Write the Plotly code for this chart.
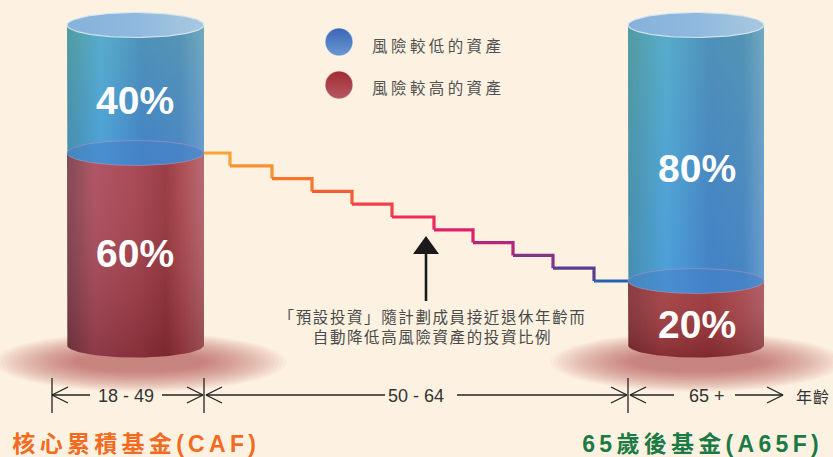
import json
import numpy as np
import plotly.graph_objects as go

# ---------------- data ----------------
fund_names = ["核心累積基金(CAF)", "65歲後基金(A65F)"]
legend_labels = ["風險較低的資產", "風險較高的資產"]
age_bands = ["18 - 49", "50 - 64", "65 +"]
age_axis_title = "年齡"
note_lines = ["「預設投資」隨計劃成員接近退休年齡而", "自動降低高風險資產的投資比例"]

caf_low_risk = 40      # %
caf_high_risk = 60     # %
a65f_low_risk = 80     # %
a65f_high_risk = 20    # %

# high-risk share held along the de-risking path (age 50-64)
derisk_high_risk = [60, 56, 52, 48, 44, 40, 36, 32, 28, 24, 20]
derisk_step_x = [204, 230, 272, 312, 352, 392, 434, 473, 513, 553, 594, 628]

# ---------------- layout helpers ----------------
W, H = 833, 457
PX_PER_PCT = 3.2
BASE_PX = 345.0


def py(px):
    """pixel row -> y value (percent scale)"""
    return (BASE_PX - px) / PX_PER_PCT


YMIN, YMAX = py(H), py(0)
RY = 12.5 / PX_PER_PCT
BG = "#FDF2E1"

step_colors = ["#F8A334", "#F79030", "#F6762C", "#F45C35", "#F1404A", "#EE2C5D",
               "#DD216B", "#B5267A", "#843486", "#55408F", "#2662B0"]

fig = go.Figure()

t = np.linspace(0, np.pi, 60)
tf = np.linspace(0, 2 * np.pi, 120)


def add_poly(xs, ys, color=None, grad=None, opacity=1.0, line=None):
    kw = dict(x=list(xs), y=list(ys), mode="lines", fill="toself",
              hoverinfo="skip", showlegend=False, opacity=opacity,
              line=line or dict(width=0, color="rgba(0,0,0,0)"))
    if grad is not None:
        kw["fillgradient"] = grad
    else:
        kw["fillcolor"] = color
    fig.add_trace(go.Scatter(**kw))


def glow(cx, cy_px):
    n = 22
    for k in range(n):
        f = 1 - k / n
        rx = 62 + 85 * f
        ry = (9 + 21 * f) / PX_PER_PCT
        add_poly(cx + rx * np.cos(tf), py(cy_px) + ry * np.sin(tf),
                 color="rgba(175,60,65,0.036)")


def cylinder(cx, rx, high, blue_cs, red_cs):
    x0, x1 = cx - rx, cx + rx
    top = high + (100 - high)
    b = high
    # red (higher-risk) body
    xs = [x0, x0] + list(cx - rx * np.cos(t)) + [x1, x1]
    ys = [b, 0] + list(0 - RY * np.sin(t)) + [0, b]
    add_poly(xs, ys, grad=dict(type="horizontal", colorscale=red_cs, start=x0, stop=x1))
    add_poly(xs, ys, grad=dict(type="vertical", colorscale=[
        [0, "rgba(70,10,15,0.28)"], [1, "rgba(255,170,185,0.10)"]], start=-RY, stop=b))
    # blue (lower-risk) body
    xs = [x0, x0] + list(cx - rx * np.cos(t)) + [x1, x1]
    ys = [top, b] + list(b - RY * np.sin(t)) + [b, top]
    add_poly(xs, ys, grad=dict(type="horizontal", colorscale=blue_cs, start=x0, stop=x1))
    add_poly(xs, ys, grad=dict(type="vertical", colorscale=[
        [0, "rgba(40,100,205,0.22)"], [1, "rgba(95,165,140,0.25)"]], start=b - RY, stop=top))
    # boundary ellipse (top of red seen through blue)
    add_poly(cx + rx * np.cos(tf), b + RY * np.sin(tf), color="rgba(70,130,200,0.55)",
             line=dict(width=1, color="rgba(190,150,190,0.5)"))
    # top face
    add_poly(cx + rx * np.cos(tf), top + RY * np.sin(tf),
             grad=dict(type="horizontal", colorscale=[[0, "#86B1DA"], [0.5, "#8FB9DE"], [1, "#A9C8E0"]],
                       start=x0, stop=x1),
             line=dict(width=1.2, color="rgba(215,232,240,0.9)"))


glow(140, 362)
glow(697, 362)

blue_left = [[0, "#4D98A6"], [0.25, "#57B1DE"], [0.55, "#4A8DC4"], [0.82, "#5390C0"], [1, "#78A9CE"]]
red_left = [[0, "#74404A"], [0.2, "#A84C5C"], [0.5, "#A0404C"], [0.72, "#8E3238"], [0.86, "#A8484E"], [1, "#B0646C"]]
blue_right = [[0, "#4D98A8"], [0.28, "#56B0DF"], [0.6, "#4A8AC6"], [0.85, "#4F8EC2"], [1, "#7AAAD0"]]
red_right = [[0, "#7A3034"], [0.25, "#9E3E40"], [0.6, "#963436"], [0.85, "#A2474A"], [1, "#A85A5E"]]

cylinder(135.5, 68.5, caf_high_risk, blue_left, red_left)
cylinder(696, 68, a65f_high_risk, blue_right, red_right)

# de-risking staircase
for i, lvl in enumerate(derisk_high_risk):
    nxt = derisk_high_risk[i + 1] if i + 1 < len(derisk_high_risk) else lvl
    fig.add_trace(go.Scatter(
        x=[derisk_step_x[i], derisk_step_x[i + 1]], y=[lvl, nxt], mode="lines",
        line=dict(color=step_colors[i], width=3.2, shape="hv"),
        hoverinfo="skip", showlegend=False))

# legend markers
fig.add_trace(go.Scatter(
    x=[339, 339], y=[py(42), py(85)], mode="markers", hoverinfo="skip", showlegend=False,
    marker=dict(size=28, color=["#3C66B4", "#A02A32"],
                gradient=dict(type="vertical", color=["#6A98D4", "#B65A62"]),
                line=dict(width=1.2, color="rgba(255,255,255,0.6)"))))

shapes = []
ax_y = py(395)
LC = "#222222"


def seg(xa, ya, xb, yb, w=1.3, color=LC):
    shapes.append(dict(type="line", xref="x", yref="y", x0=xa, y0=ya, x1=xb, y1=yb,
                       line=dict(color=color, width=w)))


def chev(tip, d):
    # d = +1 opens to the right ("<"), -1 opens to the left (">")
    seg(tip, ax_y, tip + d * 16, ax_y + 8 / PX_PER_PCT)
    seg(tip, ax_y, tip + d * 16, ax_y - 8 / PX_PER_PCT)


for tx in (52, 204, 628):
    seg(tx, py(378), tx, py(413))

chev(52, 1); seg(52, ax_y, 90, ax_y); seg(162, ax_y, 203, ax_y); chev(203, -1)
chev(206, 1); seg(206, ax_y, 385, ax_y); seg(457, ax_y, 627, ax_y); chev(627, -1)
chev(630, 1); seg(630, ax_y, 674, ax_y); seg(735, ax_y, 783, ax_y); chev(783, -1)

# pointer arrow
seg(426, py(301), 426, py(252), w=2.6, color="#1A1A1A")
shapes.append(dict(type="path", xref="x", yref="y",
                   path=f"M 413,{py(254)} L 426,{py(236)} L 439,{py(254)} Z",
                   fillcolor="#1A1A1A", line=dict(width=0)))

ann = []
spacing = {}


def text(x, ypx, s, size, color, family, bold=False, ls=0, xanchor="center"):
    ann.append(dict(x=x, y=py(ypx), xref="x", yref="y", text=f"<b>{s}</b>" if bold else s,
                    showarrow=False, xanchor=xanchor, yanchor="middle",
                    font=dict(size=size, color=color, family=family)))
    if ls:
        spacing[str(len(ann) - 1)] = ls


PCT_FONT = "Liberation Sans, Arial, sans-serif"
CJK = "Noto Sans CJK TC, sans-serif"
MIX = "Liberation Sans, Noto Sans CJK TC, sans-serif"

text(135, 100, f"{caf_low_risk}%", 39, "white", PCT_FONT, bold=True)
text(135, 253, f"{caf_high_risk}%", 39, "white", PCT_FONT, bold=True)
text(697, 168, f"{a65f_low_risk}%", 39, "white", PCT_FONT, bold=True)
text(697, 324, f"{a65f_high_risk}%", 39, "white", PCT_FONT, bold=True)

text(438, 45, legend_labels[0], 15.5, "#505050", CJK, ls=3.4)
text(438, 87, legend_labels[1], 15.5, "#505050", CJK, ls=3.4)

text(432, 326, "<br>".join(note_lines), 15.5, "#4A4A4A", CJK, ls=1.6)

text(126, 396, age_bands[0], 18, "#333333", PCT_FONT)
text(416, 396, age_bands[1], 18, "#333333", PCT_FONT)
text(707, 396, age_bands[2], 18, "#333333", PCT_FONT)
text(813, 396, age_axis_title, 16, "#333333", CJK, ls=1)

text(136, 444, fund_names[0], 23, "#F26B21", MIX, bold=True, ls=4.3)
text(702, 444, fund_names[1], 23, "#1B7A45", MIX, bold=True, ls=4.3)

fig.update_layout(
    width=W, height=H, margin=dict(l=0, r=0, t=0, b=0),
    paper_bgcolor=BG, plot_bgcolor=BG, showlegend=False,
    xaxis=dict(range=[0, W], visible=False, fixedrange=True),
    yaxis=dict(range=[YMIN, YMAX], visible=False, fixedrange=True),
    shapes=shapes, annotations=ann,
)

post = """
document.body.style.margin = '0';
document.body.style.padding = '0';
document.body.style.background = 'BGCOL';
document.body.style.overflow = 'hidden';
var gd = document.getElementById('{plot_id}');
var sp = SPACING;
function applySp(){
  gd.querySelectorAll('g.annotation').forEach(function(g){
    var i = g.getAttribute('data-index');
    if (sp[i] !== undefined) {
      var tx = g.querySelector('text.annotation-text');
      if (tx) tx.style.letterSpacing = sp[i] + 'px';
    }
  });
}
applySp();
gd.on('plotly_afterplot', applySp);
""".replace("SPACING", json.dumps(spacing)).replace("BGCOL", BG)

fig.write_html("out.html", config={"displayModeBar": False, "staticPlot": True}, post_script=post)
